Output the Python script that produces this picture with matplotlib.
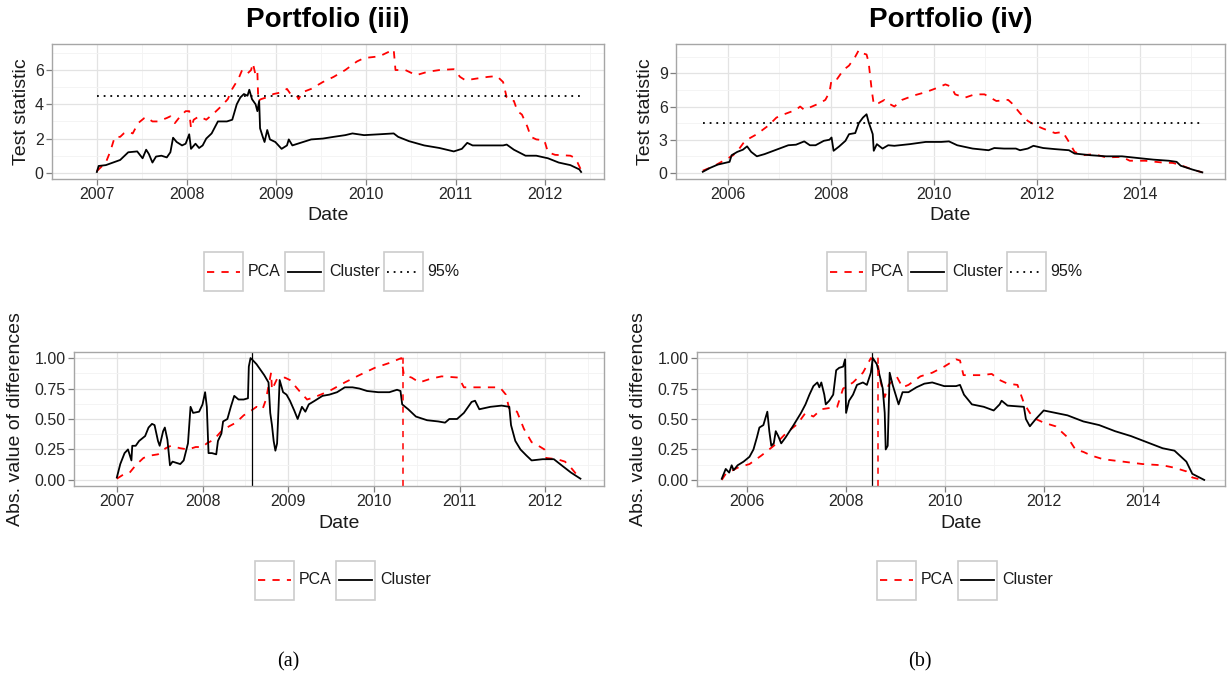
import matplotlib
matplotlib.use("Agg")
import matplotlib.pyplot as plt
from matplotlib.patches import Rectangle
from matplotlib.lines import Line2D

plt.rcParams['font.family'] = ['Liberation Sans', 'DejaVu Sans']

# ---- data (decimal years) ----
# Portfolio (iii), test statistic
iii_stat_pca_t = [2007.0, 2007.1, 2007.15, 2007.2, 2007.26, 2007.3, 2007.35, 2007.4, 2007.46, 2007.53,
                  2007.55, 2007.62, 2007.68, 2007.78, 2007.82, 2007.87, 2007.93, 2007.99, 2008.03, 2008.05,
                  2008.08, 2008.14, 2008.22, 2008.31, 2008.39, 2008.46, 2008.51, 2008.58, 2008.62, 2008.68,
                  2008.72, 2008.74, 2008.77, 2008.79, 2008.8, 2008.83, 2008.89, 2008.97, 2009.06, 2009.12,
                  2009.16, 2009.23, 2009.25, 2009.29, 2009.39, 2009.52, 2009.64, 2009.77, 2009.9, 2009.98,
                  2010.15, 2010.23, 2010.31, 2010.33, 2010.44, 2010.56, 2010.69, 2010.82, 2010.98, 2011.05,
                  2011.11, 2011.23, 2011.36, 2011.46, 2011.53, 2011.57, 2011.61, 2011.65, 2011.69, 2011.74,
                  2011.8, 2011.84, 2011.9, 2011.99, 2012.03, 2012.11, 2012.28, 2012.32, 2012.36, 2012.4]
iii_stat_pca_v = [0.1, 0.6, 1.25, 2.1, 2.1, 2.3, 2.4, 2.3, 2.9, 3.2,
                  3.25, 3.0, 3.0, 3.2, 3.3, 2.9, 3.3, 3.6, 3.6, 2.6,
                  3.1, 3.3, 3.1, 3.5, 3.9, 4.3, 4.9, 5.5, 6.0, 5.8,
                  6.0, 6.4, 5.7, 5.9, 4.2, 4.3, 4.4, 4.6, 4.7, 4.9,
                  4.6, 4.5, 4.3, 4.7, 4.9, 5.3, 5.6, 6.0, 6.5, 6.7,
                  6.8, 7.0, 7.2, 6.0, 6.0, 5.7, 5.9, 6.0, 6.05, 5.6,
                  5.4, 5.5, 5.6, 5.65, 5.3, 4.4, 4.2, 4.2, 3.6, 3.4,
                  2.7, 2.1, 1.95, 1.9, 1.2, 1.05, 1.0, 0.9, 0.6, 0.15]
iii_stat_clu_t = [2007.0, 2007.02, 2007.1, 2007.18, 2007.26, 2007.35, 2007.45, 2007.51, 2007.55, 2007.58,
                  2007.62, 2007.66, 2007.72, 2007.78, 2007.82, 2007.85, 2007.89, 2007.95, 2007.99, 2008.03,
                  2008.05, 2008.1, 2008.14, 2008.18, 2008.22, 2008.28, 2008.35, 2008.45, 2008.51, 2008.56,
                  2008.6, 2008.64, 2008.68, 2008.7, 2008.73, 2008.77, 2008.79, 2008.81, 2008.82, 2008.85,
                  2008.87, 2008.9, 2008.93, 2008.99, 2009.06, 2009.12, 2009.14, 2009.18, 2009.27, 2009.39,
                  2009.52, 2009.64, 2009.77, 2009.85, 2009.98, 2010.15, 2010.31, 2010.36, 2010.48, 2010.65,
                  2010.82, 2010.98, 2011.07, 2011.13, 2011.19, 2011.36, 2011.53, 2011.57, 2011.65, 2011.78,
                  2011.9, 2012.03, 2012.15, 2012.28, 2012.38, 2012.4]
iii_stat_clu_v = [0.05, 0.4, 0.45, 0.6, 0.75, 1.2, 1.25, 0.85, 1.35, 1.1,
                  0.6, 0.95, 1.0, 0.9, 1.2, 2.05, 1.8, 1.6, 1.7, 2.25,
                  1.4, 1.7, 1.45, 1.6, 2.0, 2.3, 3.0, 3.0, 3.1, 4.0,
                  4.4, 4.6, 4.5, 4.85, 4.3, 4.0, 3.6, 4.2, 2.6, 2.1,
                  1.8, 2.5, 1.95, 1.8, 1.4, 1.6, 1.95, 1.6, 1.75, 1.95,
                  2.0, 2.1, 2.2, 2.3, 2.2, 2.25, 2.3, 2.1, 1.85, 1.6,
                  1.45, 1.25, 1.4, 1.75, 1.6, 1.6, 1.6, 1.65, 1.35, 1.0,
                  1.0, 0.85, 0.6, 0.45, 0.2, 0.05]

# Portfolio (iv), test statistic
iv_stat_pca_t = [2005.52, 2005.73, 2005.96, 2006.11, 2006.23, 2006.34, 2006.57, 2006.8, 2006.95, 2007.1,
                 2007.33, 2007.41, 2007.49, 2007.64, 2007.79, 2007.9, 2007.98, 2008.02, 2008.13, 2008.25,
                 2008.36, 2008.48, 2008.55, 2008.63, 2008.7, 2008.74, 2008.8, 2008.84, 2008.93, 2009.05,
                 2009.12, 2009.24, 2009.39, 2009.62, 2009.85, 2010.08, 2010.23, 2010.34, 2010.42, 2010.61,
                 2010.8, 2010.99, 2011.22, 2011.45, 2011.52, 2011.68, 2011.83, 2011.98, 2012.13, 2012.36,
                 2012.51, 2012.63, 2012.74, 2012.9, 2013.12, 2013.35, 2013.66, 2013.81, 2014.11, 2014.42,
                 2014.65, 2014.8, 2015.03, 2015.22]
iv_stat_pca_v = [0.2, 0.6, 1.2, 1.6, 2.2, 2.9, 3.5, 4.3, 5.0, 5.3,
                 5.7, 6.0, 5.7, 6.0, 6.3, 6.6, 7.3, 8.4, 8.5, 9.3,
                 9.7, 10.5, 11.1, 10.8, 10.7, 10.0, 7.5, 6.2, 6.3, 6.6,
                 6.3, 6.0, 6.6, 7.0, 7.3, 7.7, 8.0, 7.8, 7.1, 6.8,
                 7.1, 7.1, 6.5, 6.6, 6.3, 5.4, 4.7, 4.3, 4.0, 3.6,
                 3.7, 2.8, 1.9, 1.6, 1.7, 1.4, 1.45, 1.1, 1.1, 0.95,
                 0.9, 0.7, 0.3, 0.05]
iv_stat_clu_t = [2005.52, 2005.66, 2005.81, 2006.04, 2006.08, 2006.19, 2006.3, 2006.38, 2006.46, 2006.57,
                 2006.72, 2006.95, 2007.18, 2007.33, 2007.49, 2007.6, 2007.71, 2007.87, 2007.98, 2008.02,
                 2008.06, 2008.17, 2008.29, 2008.36, 2008.48, 2008.55, 2008.63, 2008.7, 2008.74, 2008.82,
                 2008.84, 2008.9, 2009.01, 2009.12, 2009.24, 2009.54, 2009.85, 2010.15, 2010.3, 2010.46,
                 2010.76, 2011.07, 2011.18, 2011.37, 2011.6, 2011.68, 2011.83, 2011.94, 2012.13, 2012.36,
                 2012.63, 2012.74, 2013.05, 2013.35, 2013.66, 2013.96, 2014.27, 2014.57, 2014.72, 2014.8,
                 2015.03, 2015.22]
iv_stat_clu_v = [0.1, 0.45, 0.75, 1.0, 1.6, 1.9, 2.1, 2.4, 1.9, 1.5,
                 1.7, 2.1, 2.5, 2.55, 2.85, 2.5, 2.5, 2.9, 3.0, 3.2,
                 2.0, 2.4, 2.9, 3.5, 3.6, 4.5, 5.0, 5.3, 4.6, 3.5,
                 2.0, 2.6, 2.2, 2.5, 2.45, 2.6, 2.8, 2.8, 2.85, 2.5,
                 2.2, 2.05, 2.25, 2.2, 2.2, 2.05, 2.2, 2.45, 2.25, 2.15,
                 2.05, 1.75, 1.6, 1.5, 1.5, 1.35, 1.2, 1.1, 1.0, 0.65,
                 0.3, 0.05]
threshold_95 = 4.5

# Portfolio (iii), absolute differences
iii_diff_pca_t = [2007.0, 2007.09, 2007.15, 2007.22, 2007.31, 2007.39, 2007.48, 2007.57, 2007.63, 2007.74,
                  2007.83, 2007.92, 2008.0, 2008.05, 2008.13, 2008.22, 2008.31, 2008.39, 2008.48, 2008.57,
                  2008.63, 2008.7, 2008.74, 2008.77, 2008.8, 2008.81, 2008.87, 2008.96, 2009.02, 2009.13,
                  2009.22, 2009.31, 2009.48, 2009.66, 2009.83, 2010.01, 2010.18, 2010.32, 2010.35, 2010.44,
                  2010.53, 2010.66, 2010.79, 2010.99, 2011.05, 2011.32, 2011.47, 2011.54, 2011.58, 2011.67,
                  2011.75, 2011.84, 2011.92, 2011.99, 2012.01, 2012.14, 2012.23, 2012.3, 2012.37, 2012.41]
iii_diff_pca_v = [0.01, 0.05, 0.06, 0.12, 0.18, 0.20, 0.21, 0.26, 0.28, 0.26,
                  0.25, 0.27, 0.27, 0.30, 0.33, 0.40, 0.44, 0.47, 0.53, 0.57,
                  0.60, 0.58, 0.66, 0.77, 0.88, 0.74, 0.83, 0.84, 0.82, 0.73,
                  0.66, 0.68, 0.73, 0.80, 0.86, 0.92, 0.96, 1.0, 0.86, 0.84,
                  0.80, 0.83, 0.85, 0.84, 0.76, 0.76, 0.76, 0.70, 0.58, 0.56,
                  0.42, 0.31, 0.28, 0.25, 0.18, 0.17, 0.15, 0.10, 0.04, 0.01]
iii_diff_clu_t = [2007.0, 2007.04, 2007.09, 2007.13, 2007.17, 2007.18, 2007.22, 2007.26, 2007.33, 2007.37,
                  2007.41, 2007.44, 2007.48, 2007.5, 2007.54, 2007.56, 2007.59, 2007.62, 2007.65, 2007.74,
                  2007.78, 2007.83, 2007.86, 2007.89, 2007.96, 2008.0, 2008.03, 2008.05, 2008.07, 2008.11,
                  2008.16, 2008.18, 2008.22, 2008.24, 2008.29, 2008.33, 2008.37, 2008.42, 2008.48, 2008.53,
                  2008.54, 2008.56, 2008.59, 2008.63, 2008.68, 2008.72, 2008.77, 2008.79, 2008.81, 2008.83,
                  2008.85, 2008.87, 2008.9, 2008.94, 2008.98, 2009.02, 2009.07, 2009.11, 2009.16, 2009.2,
                  2009.24, 2009.31, 2009.4, 2009.48, 2009.57, 2009.66, 2009.75, 2009.83, 2009.92, 2010.05,
                  2010.18, 2010.27, 2010.31, 2010.33, 2010.4, 2010.49, 2010.62, 2010.75, 2010.83, 2010.88,
                  2010.97, 2011.05, 2011.14, 2011.18, 2011.23, 2011.36, 2011.49, 2011.58, 2011.6, 2011.65,
                  2011.71, 2011.78, 2011.84, 2011.97, 2012.1, 2012.19, 2012.3, 2012.41]
iii_diff_clu_v = [0.02, 0.13, 0.22, 0.25, 0.16, 0.28, 0.28, 0.32, 0.36, 0.43,
                  0.46, 0.45, 0.32, 0.28, 0.40, 0.43, 0.33, 0.12, 0.15, 0.13,
                  0.16, 0.30, 0.60, 0.55, 0.56, 0.62, 0.72, 0.60, 0.22, 0.22,
                  0.21, 0.32, 0.38, 0.48, 0.50, 0.60, 0.69, 0.66, 0.66, 0.67,
                  0.93, 1.0, 0.98, 0.95, 0.90, 0.86, 0.80, 0.55, 0.45, 0.32,
                  0.24, 0.30, 0.82, 0.72, 0.70, 0.65, 0.57, 0.50, 0.60, 0.56,
                  0.62, 0.65, 0.69, 0.70, 0.72, 0.76, 0.76, 0.75, 0.73, 0.72,
                  0.72, 0.74, 0.73, 0.62, 0.58, 0.52, 0.49, 0.48, 0.47, 0.50,
                  0.50, 0.55, 0.64, 0.65, 0.58, 0.60, 0.61, 0.60, 0.45, 0.32,
                  0.25, 0.20, 0.16, 0.17, 0.17, 0.12, 0.06, 0.01]
iii_peak_pca = 2010.335
iii_peak_clu = 2008.58

# Portfolio (iv), absolute differences
iv_diff_pca_t = [2005.5, 2005.58, 2005.82, 2006.06, 2006.3, 2006.55, 2006.79, 2007.03, 2007.19, 2007.35,
                 2007.51, 2007.67, 2007.83, 2007.95, 2008.15, 2008.35, 2008.51, 2008.65, 2008.71, 2008.79,
                 2008.87, 2009.03, 2009.15, 2009.27, 2009.51, 2009.75, 2009.99, 2010.23, 2010.31, 2010.38,
                 2010.55, 2010.75, 2010.95, 2011.11, 2011.27, 2011.47, 2011.6, 2011.72, 2011.84, 2012.0,
                 2012.24, 2012.4, 2012.48, 2012.56, 2012.64, 2012.8, 2012.96, 2013.2, 2013.6, 2014.0,
                 2014.4, 2014.64, 2014.88, 2015.0, 2015.2]
iv_diff_pca_v = [0.0, 0.05, 0.10, 0.13, 0.20, 0.28, 0.38, 0.46, 0.55, 0.52,
                 0.58, 0.59, 0.60, 0.75, 0.80, 0.88, 1.0, 0.95, 0.80, 0.68,
                 0.78, 0.85, 0.76, 0.78, 0.85, 0.88, 0.93, 0.99, 0.98, 0.86,
                 0.86, 0.86, 0.87, 0.82, 0.79, 0.78, 0.63, 0.55, 0.50, 0.47,
                 0.44, 0.38, 0.35, 0.30, 0.25, 0.23, 0.20, 0.17, 0.15, 0.13,
                 0.12, 0.10, 0.07, 0.02, 0.0]
iv_diff_clu_t = [2005.5, 2005.58, 2005.65, 2005.7, 2005.74, 2005.82, 2005.94, 2006.06, 2006.14, 2006.21,
                 2006.26, 2006.34, 2006.42, 2006.46, 2006.5, 2006.55, 2006.59, 2006.64, 2006.7, 2006.79,
                 2006.95, 2007.1, 2007.19, 2007.27, 2007.35, 2007.43, 2007.47, 2007.51, 2007.57, 2007.6,
                 2007.67, 2007.75, 2007.81, 2007.87, 2007.95, 2007.99, 2008.01, 2008.07, 2008.15, 2008.23,
                 2008.35, 2008.43, 2008.51, 2008.55, 2008.63, 2008.71, 2008.75, 2008.79, 2008.81, 2008.85,
                 2008.89, 2008.95, 2009.07, 2009.15, 2009.27, 2009.43, 2009.59, 2009.75, 2009.99, 2010.23,
                 2010.31, 2010.39, 2010.55, 2010.79, 2010.99, 2011.11, 2011.15, 2011.27, 2011.6, 2011.64,
                 2011.72, 2011.84, 2012.0, 2012.24, 2012.48, 2012.8, 2013.12, 2013.44, 2013.76, 2014.08,
                 2014.4, 2014.64, 2014.88, 2015.0, 2015.24]
iv_diff_clu_v = [0.01, 0.09, 0.06, 0.12, 0.08, 0.12, 0.15, 0.19, 0.25, 0.35,
                 0.43, 0.45, 0.56, 0.40, 0.28, 0.30, 0.40, 0.36, 0.30, 0.35,
                 0.45, 0.55, 0.62, 0.70, 0.77, 0.80, 0.76, 0.80, 0.70, 0.62,
                 0.65, 0.70, 0.90, 0.92, 0.93, 0.99, 0.55, 0.65, 0.70, 0.78,
                 0.80, 0.78, 0.88, 1.0, 0.95, 0.82, 0.75, 0.55, 0.25, 0.28,
                 0.88, 0.78, 0.62, 0.72, 0.72, 0.76, 0.79, 0.80, 0.77, 0.77,
                 0.78, 0.70, 0.62, 0.60, 0.57, 0.62, 0.65, 0.61, 0.60, 0.50,
                 0.44, 0.50, 0.57, 0.55, 0.53, 0.48, 0.45, 0.40, 0.36, 0.31,
                 0.26, 0.24, 0.15, 0.05, 0.0]
iv_peak_pca = 2008.65
iv_peak_clu = 2008.53

W, H = 1227, 683
fig = plt.figure(figsize=(W / 100, H / 100), dpi=100)

RED = '#FF0000'
DASH = (0, (4, 4))
DOT = (0, (1, 2.7))


def px_axes(l, t, r, b):
    return fig.add_axes([l / W, 1 - b / H, (r - l) / W, (b - t) / H])


def style(ax, xlim, ylim, xmaj, xmin, ymaj, ymin, ylab, ylabfmt, ylab_x, xlab_y):
    ax.set_xlim(xlim)
    ax.set_ylim(ylim)
    ax.set_xticks(xmaj, [str(int(v)) for v in xmaj])
    ax.set_xticks(xmin, minor=True)
    ax.set_yticks(ymaj, [ylabfmt.format(v) for v in ymaj])
    ax.set_yticks(ymin, minor=True)
    ax.grid(which='major', color='#E3E3E3', lw=0.9)
    ax.grid(which='minor', color='#F3F3F3', lw=0.6)
    ax.set_axisbelow(True)
    for s in ax.spines.values():
        s.set_color('#A6A6A6')
        s.set_linewidth(1.0)
    ax.tick_params(which='major', direction='out', length=4, width=0.9, color='#7F7F7F',
                   labelsize=11.5, labelcolor='#262626', pad=2)
    ax.tick_params(which='minor', length=0)
    ax.set_xlabel('Date', fontsize=14, color='#1A1A1A')
    ax.xaxis.set_label_coords(0.5, xlab_y)
    ax.set_ylabel(ylab, fontsize=14, color='#1A1A1A')
    ax.yaxis.set_label_coords(ylab_x, 0.5)


def key_legend(xc, yc, entries):
    # boxed ggplot-like legend keys, positions in pixels
    box, gap_txt, gap_next = 39, 5, 4
    r = fig.canvas.get_renderer()
    texts = []
    for lab, _, _ in entries:
        t = fig.text(0, 0, lab, fontsize=11.5, color='#1A1A1A', va='center', ha='left')
        texts.append((t, t.get_window_extent(r).width))
    total = sum(box + gap_txt + w for _, w in texts) + gap_next * (len(entries) - 1)
    x = xc - total / 2
    for (lab, col, ls), (t, w) in zip(entries, texts):
        fig.add_artist(Rectangle((x / W, 1 - (yc + box / 2) / H), box / W, box / H,
                                 transform=fig.transFigure, facecolor='white',
                                 edgecolor='#CCCCCC', lw=1.2))
        fig.add_artist(Line2D([(x + 3) / W, (x + box - 3) / W], [1 - yc / H, 1 - yc / H],
                              transform=fig.transFigure, color=col, ls=ls, lw=1.3))
        t.set_position(((x + box + gap_txt) / W, 1 - yc / H))
        x += box + gap_txt + w + gap_next


# ---- top left: Portfolio (iii) test statistic ----
ax1 = px_axes(52, 44, 604, 179)
ax1.plot(iii_stat_pca_t, iii_stat_pca_v, color=RED, ls=DASH, lw=1.3)
ax1.plot(iii_stat_clu_t, iii_stat_clu_v, color='black', lw=1.3)
ax1.plot([iii_stat_clu_t[0], iii_stat_clu_t[-1]], [threshold_95, threshold_95],
         color='black', ls=DOT, lw=1.3)
style(ax1, (2006.73, 2012.655), (-0.36, 7.52), list(range(2007, 2013)),
      [y + 0.5 for y in range(2006, 2013)], [0, 2, 4, 6], [1, 3, 5, 7],
      'Test statistic', '{:g}', -0.04, -0.21)
ax1.set_title('Portfolio (iii)', fontsize=20, fontweight='bold', pad=12)

# ---- top right: Portfolio (iv) test statistic ----
ax2 = px_axes(676, 44, 1225, 179)
ax2.plot(iv_stat_pca_t, iv_stat_pca_v, color=RED, ls=DASH, lw=1.3)
ax2.plot(iv_stat_clu_t, iv_stat_clu_v, color='black', lw=1.3)
ax2.plot([iv_stat_clu_t[0], iv_stat_clu_t[-1]], [threshold_95, threshold_95],
         color='black', ls=DOT, lw=1.3)
style(ax2, (2005.03, 2015.66), (-0.55, 11.65), [2006, 2008, 2010, 2012, 2014],
      [2005, 2007, 2009, 2011, 2013, 2015], [0, 3, 6, 9], [1.5, 4.5, 7.5, 10.5],
      'Test statistic', '{:g}', -0.04, -0.21)
ax2.set_title('Portfolio (iv)', fontsize=20, fontweight='bold', pad=12)

# ---- bottom left: Portfolio (iii) differences ----
ax3 = px_axes(74, 352, 604, 486)
ax3.plot(iii_diff_pca_t, iii_diff_pca_v, color=RED, ls=DASH, lw=1.3)
ax3.plot(iii_diff_clu_t, iii_diff_clu_v, color='black', lw=1.3)
ax3.axvline(iii_peak_pca, color=RED, ls=DASH, lw=1.1)
ax3.axvline(iii_peak_clu, color='black', lw=0.9)
style(ax3, (2006.73, 2012.685), (-0.05, 1.05), list(range(2007, 2013)),
      [y + 0.5 for y in range(2006, 2013)], [0, 0.25, 0.5, 0.75, 1.0],
      [0.125, 0.375, 0.625, 0.875], 'Abs. value of differences', '{:.2f}', -0.095, -0.22)

# ---- bottom right: Portfolio (iv) differences ----
ax4 = px_axes(697, 352, 1225, 486)
ax4.plot(iv_diff_pca_t, iv_diff_pca_v, color=RED, ls=DASH, lw=1.3)
ax4.plot(iv_diff_clu_t, iv_diff_clu_v, color='black', lw=1.3)
ax4.axvline(iv_peak_pca, color=RED, ls=DASH, lw=1.1)
ax4.axvline(iv_peak_clu, color='black', lw=0.9)
style(ax4, (2005.03, 2015.66), (-0.05, 1.05), [2006, 2008, 2010, 2012, 2014],
      [2005, 2007, 2009, 2011, 2013, 2015], [0, 0.25, 0.5, 0.75, 1.0],
      [0.125, 0.375, 0.625, 0.875], 'Abs. value of differences', '{:.2f}', -0.095, -0.22)

# ---- legends ----
three = [('PCA', RED, DASH), ('Cluster', 'black', '-'), ('95%', 'black', DOT)]
two = [('PCA', RED, DASH), ('Cluster', 'black', '-')]
key_legend(332, 272, three)
key_legend(955, 272, three)
key_legend(343, 580, two)
key_legend(965, 580, two)

# ---- captions ----
fig.text(288 / W, 1 - 662 / H, '(a)', fontsize=14.5, family='Liberation Serif',
         ha='center', va='center')
fig.text(920 / W, 1 - 662 / H, '(b)', fontsize=14.5, family='Liberation Serif',
         ha='center', va='center')

fig.savefig('out.png', dpi=100)
